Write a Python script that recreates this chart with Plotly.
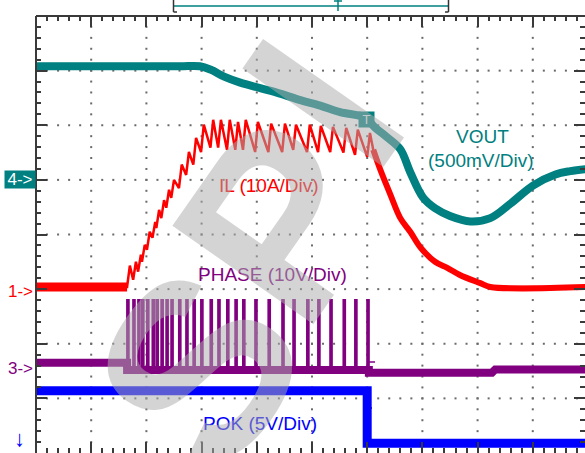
import plotly.graph_objects as go

# scope capture: 10 us/div, trigger 6 div from the left edge
T_LEFT, T_RIGHT = -60, 39.46

# CH4  VOUT (500mV/Div)
vout_t = [-60, -44.7, -33.9, -30.3, -28.4, -25.7, -23.0, -19.4, -15.8, -12.1, -8.5, -4.9,
          -0.4, 1.4, 3.6, 6.0, 7.8, 10.1, 12.3, 15.0, 18.7, 22.3, 25.9, 30.1, 34.1, 36.8, 40]
vout_v = [2.04, 2.04, 2.04, 2.04, 2.01, 1.94, 1.89, 1.84, 1.79, 1.73, 1.68, 1.62,
          1.57, 1.48, 1.39, 1.28, 1.07, 0.84, 0.74, 0.67, 0.62, 0.65, 0.78, 0.95, 1.05, 1.08, 1.10]

# switching events (high-side on) shared by IL and PHASE
sw_t = [-43.5, -42.4, -41.5, -40.8, -39.9, -38.9, -38.2, -37.3, -36.4, -35.5,
        -34.1, -32.8, -31.5, -30.1, -28.4, -27.0, -25.4, -23.9, -22.5, -20.3,
        -17.9, -15.4, -13.4, -10.9, -8.9, -6.7, -4.3, -2.2, 0.0]

# CH1  IL (10A/Div)
il_idle = 0.4
il_valley = [0.4, 1.7, 3.2, 5.0, 7.2, 9.4, 11.2, 13.0, 14.9, 16.7,
             18.5, 20.9, 22.8, 25.1, 25.9, 25.9, 25.5, 25.5, 25.5, 25.1,
             25.1, 25.1, 25.5, 25.1, 25.1, 25.1, 25.0, 24.6, 24.2]
il_peak = [4.3, 5.0, 6.3, 8.1, 10.5, 12.3, 14.5, 16.3, 18.2, 20.0,
           22.8, 25.1, 27.7, 30.1, 31.0, 31.0, 31.0, 30.6, 31.0, 30.6,
           30.3, 30.3, 30.1, 30.1, 29.9, 29.7, 29.5, 29.2, 28.6]
il_tail_t = [1.1, 2.4, 4.2, 6.0, 7.8, 9.6, 12.3, 14.5, 16.8, 20.5, 22.3, 40]
il_tail = [25.5, 21.8, 17.3, 13.0, 10.5, 7.7, 5.0, 3.9, 2.6, 1.1, 0.4, 0.4]

# CH3  PHASE (10V/Div)
phase_pre = 1.0
phase_low = -0.3
phase_high = 12.5
phase_after_t = [0.3, 22.6, 23.2, 40]
phase_after = [-0.8, -0.8, -0.2, -0.2]

# CH2  POK (5V/Div)
pok_t = [-60, 0, 0, 40]
pok_v = [4.8, 4.8, 0.0, 0.0]

# per channel: volts(or amps)/div, marker position (div from bottom), value at marker
CH = {
    "vout": (0.5, 5.0, 1.0),
    "il": (10.0, 3.0, 0.0),
    "phase": (10.0, 1.55, 0.0),
    "pok": (5.0, 0.18, 0.0),
}

TEAL, RED, PURPLE, BLUE = "#008080", "#ff0000", "#800080", "#0000ff"
RISE = 0.5      # us, inductor current rise per pulse
PULSE_W = 0.3   # us, phase pulse width


def to_div(vals, ch):
    scale, pos, ref = CH[ch]
    return [pos + (v - ref) / scale for v in vals]


def px(x, y):
    # pixel position in the 585x453 image -> paper coords
    return (x - 36) / 549, (453 - y) / 437


fig = go.Figure()

# dotted graticule
gx, gy = [], []
for k in range(1, 10):
    for j in range(1, 40):
        gx.append(T_LEFT + 10 * k)
        gy.append(j * 0.2)
for k in range(1, 8):
    for j in range(1, 50):
        gx.append(T_LEFT + 2 * j)
        gy.append(k)
fig.add_trace(go.Scatter(x=gx, y=gy, mode="markers", hoverinfo="skip",
                         marker=dict(symbol="square", size=2, color="#6a6a6a", line=dict(width=0))))

# POK
fig.add_trace(go.Scatter(x=pok_t, y=to_div(pok_v, "pok"), mode="lines",
                         line=dict(color=BLUE, width=9)))

# PHASE: baseline band + narrow pulses
base_t = [T_LEFT, sw_t[0], sw_t[0]] + [sw_t[-1] + PULSE_W] + phase_after_t
base_v = [phase_pre, phase_pre, phase_low, phase_low] + phase_after
fig.add_trace(go.Scatter(x=base_t, y=to_div(base_v, "phase"), mode="lines",
                         line=dict(color=PURPLE, width=8)))
pt, pv = [], []
for t in sw_t:
    pt += [t, t, t + PULSE_W, t + PULSE_W, None]
    pv += [phase_low, phase_high, phase_high, phase_low, None]
fig.add_trace(go.Scatter(x=pt, y=[None if v is None else to_div([v], "phase")[0] for v in pv],
                         mode="lines", line=dict(color=PURPLE, width=2)))

# IL: idle band, sawtooth, decay
fig.add_trace(go.Scatter(x=[T_LEFT, sw_t[0]], y=to_div([il_idle, il_idle], "il"), mode="lines",
                         line=dict(color=RED, width=9)))
it, iv = [T_LEFT], [il_idle]
for t, lo, hi in zip(sw_t, il_valley, il_peak):
    it += [t, t + RISE]
    iv += [lo, hi]
it += il_tail_t
iv += il_tail
fig.add_trace(go.Scatter(x=it, y=to_div(iv, "il"), mode="lines",
                         line=dict(color=RED, width=2.5)))
fig.add_trace(go.Scatter(x=il_tail_t, y=to_div(il_tail, "il"), mode="lines",
                         line=dict(color=RED, width=6, shape="spline")))

# VOUT
fig.add_trace(go.Scatter(x=vout_t, y=to_div(vout_v, "vout"), mode="lines",
                         line=dict(color=TEAL, width=8, shape="spline")))

ann = []


def label(text, x, y, color, size=19, **kw):
    ax, ay = px(x, y)
    ann.append(dict(text=text, x=ax, y=ay, xref="paper", yref="paper", showarrow=False,
                    xanchor="center", yanchor="middle",
                    font=dict(family="Liberation Sans, Arial", size=size, color=color), **kw))


label("VOUT", 482, 136, TEAL)
label("(500mV/Div)", 481, 160, TEAL)
label("IL (10A/Div)", 269, 185, RED)
label("PHASE (10V/Div)", 272, 274, PURPLE)
label("POK (5V/Div)", 260, 423, BLUE)

# channel markers
label("4->", 20, 179, "white", size=17, bgcolor=TEAL, width=30, height=17, borderpad=0)
label("1->", 20, 291, RED, size=17)
label("3->", 20, 368, PURPLE, size=17)
label("<b>\u2193</b>", 19, 438, BLUE, size=22)
label("T", 366, 119, "#d8ecec", size=13, bgcolor=TEAL, width=15, height=15, borderpad=0)

# watermark, drawn over the traces
for txt, (x, y) in [("S", (198, 368)), ("P", (280, 220)), ("I", (322, 103))]:
    wx, wy = px(x, y)
    ann.append(dict(text="<b>%s</b>" % txt, x=wx, y=wy, xref="paper", yref="paper", showarrow=False,
                    textangle=-55, xanchor="center", yanchor="middle",
                    font=dict(family="Liberation Sans, Arial", size=250,
                              color="rgba(173,173,173,0.52)")))

shapes = []


def seg(x0, y0, x1, y1, color, w=2):
    a0, b0 = px(x0, y0)
    a1, b1 = px(x1, y1)
    shapes.append(dict(type="line", xref="paper", yref="paper", x0=a0, y0=b0, x1=a1, y1=b1,
                       line=dict(color=color, width=w)))


# frame (left / top)
seg(36, 16, 36, 460, "#3a3a3a", 2)
seg(36, 16, 590, 16, "#3a3a3a", 2)
# record window bracket
seg(173, 6, 449, 6, TEAL, 1.5)
seg(173.5, 0, 173.5, 12, "#333", 1.5)
seg(173.5, 12, 177, 12, "#333", 1.5)
seg(448.5, 0, 448.5, 12, "#333", 1.5)
seg(445, 12, 448.5, 12, "#333", 1.5)
seg(338, 0, 338, 11, TEAL, 1.5)
seg(334, 1, 342, 1, TEAL, 1.5)
# trigger ticks on PHASE / POK
seg(363, 408, 372, 408, BLUE, 1.5)
seg(367, 362, 375, 362, PURPLE, 1.5)

axis_common = dict(showgrid=False, zeroline=False, showline=False, showticklabels=False,
                   ticks="inside", ticklen=11, tickwidth=2, tickcolor="#3a3a3a",
                   mirror="allticks", fixedrange=True)

fig.update_layout(
    width=585, height=453,
    margin=dict(l=36, r=0, t=16, b=0),
    paper_bgcolor="white", plot_bgcolor="white",
    showlegend=False,
    xaxis=dict(range=[T_LEFT, T_RIGHT], tick0=T_LEFT, dtick=10,
               minor=dict(ticks="inside", ticklen=5, tickwidth=1.5, tickcolor="#3a3a3a", dtick=2),
               **axis_common),
    yaxis=dict(range=[0, 8], tick0=0, dtick=1,
               minor=dict(ticks="inside", ticklen=5, tickwidth=1.5, tickcolor="#3a3a3a", dtick=0.2),
               **axis_common),
    annotations=ann,
    shapes=shapes,
)

fig.write_html("out.html", config={"displayModeBar": False},
               post_script="document.body.style.margin='0';")
